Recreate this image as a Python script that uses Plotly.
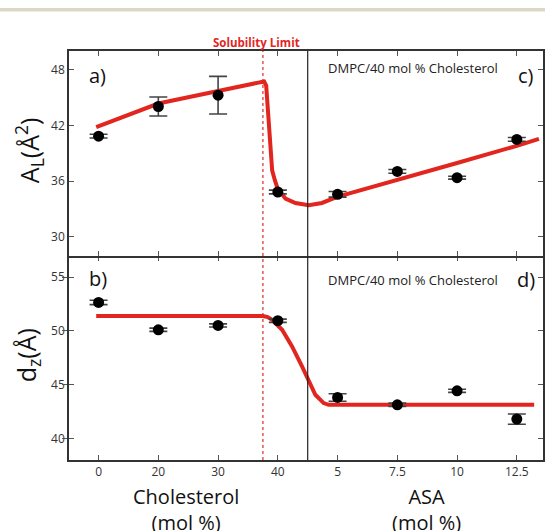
import plotly.graph_objects as go

# Composition axis: cholesterol series, then ASA series at 40 mol % cholesterol
x_pos = [0, 1, 2, 3, 4, 5, 6, 7]
x_labels = ["0", "20", "30", "40", "5", "7.5", "10", "12.5"]

# Area per lipid A_L (Å^2)
area_vals = [40.84, 44.03, 45.25, 34.83, 34.58, 37.05, 36.37, 40.49]
area_err = [0.2, 1.02, 2.02, 0.2, 0.3, 0.2, 0.15, 0.2]

# Lamellar spacing d_z (Å)
dz_vals = [52.64, 50.1, 50.5, 50.94, 43.81, 43.13, 44.43, 41.8]
dz_err = [0.2, 0.15, 0.15, 0.15, 0.35, 0.15, 0.15, 0.48]

# Guide-to-the-eye curves (position on composition axis, value)
fit_area_x = [-0.04, 0.5, 1.0, 1.5, 2.0, 2.5, 2.72, 2.77, 2.805, 2.838, 2.867,
              2.905, 2.95, 2.988, 3.06, 3.128, 3.295, 3.517, 3.738, 3.962,
              4.183, 5.0, 6.0, 7.0, 7.37]
fit_area_y = [41.8, 43.08, 44.35, 45.03, 45.67, 46.36, 46.7, 46.72, 46.28, 43.6,
              40.03, 37.16, 36.1, 35.37, 34.7, 34.12, 33.65, 33.4, 33.65, 34.23,
              34.66, 36.1, 37.95, 39.8, 40.55]

fit_dz_x = [-0.04, 2.75, 2.83, 2.905, 3.072, 3.238, 3.405, 3.517, 3.628, 3.767,
            3.85, 7.29]
fit_dz_y = [51.38, 51.38, 51.28, 51.03, 50.1, 48.55, 46.7, 45.3, 44.06, 43.29,
            43.13, 43.13]

solubility_limit = 2.75   # 37.5 mol % cholesterol
series_break = 3.5        # boundary between cholesterol and ASA series

RED = "#e2261f"
INK = "#333333"
FONT = "Open Sans"

fig = go.Figure()

def add_panel(xa, ya, fx, fy, vals, errs):
    fig.add_trace(go.Scatter(
        x=fx, y=fy, mode="lines", xaxis=xa, yaxis=ya,
        line=dict(color=RED, width=4), hoverinfo="skip", showlegend=False))
    fig.add_trace(go.Scatter(
        x=x_pos, y=vals, mode="markers", xaxis=xa, yaxis=ya,
        marker=dict(color="black", size=11),
        error_y=dict(type="data", array=errs, visible=True,
                     color="#444444", thickness=1.6, width=9),
        showlegend=False))

add_panel("x2", "y2", fit_area_x, fit_area_y, area_vals, area_err)
add_panel("x", "y", fit_dz_x, fit_dz_y, dz_vals, dz_err)

xrange = [-0.495, 7.438]
LW = 1.5
tick_style = dict(ticks="inside", ticklen=5, tickcolor="#555555", tickwidth=1,
                  showgrid=False, zeroline=False,
                  tickfont=dict(family=FONT, size=12, color=INK))
axis_common = dict(showline=True, linecolor=INK, linewidth=LW,
                   mirror="allticks", **tick_style)

fig.update_layout(
    width=545, height=531,
    margin=dict(l=69, r=0, t=51, b=71),
    paper_bgcolor="white", plot_bgcolor="white",
    # lower panel: bottom axis only; its top ticks come from xaxis3
    xaxis=dict(range=xrange, domain=[0, 1], anchor="y", showline=True,
               linecolor=INK, linewidth=LW, mirror=False,
               tickvals=x_pos, ticktext=x_labels, **tick_style),
    xaxis3=dict(range=xrange, overlaying="x", anchor="y", side="top",
                showline=False, tickvals=x_pos, showticklabels=False,
                **tick_style),
    yaxis=dict(range=[38, 57], domain=[0, 0.5], anchor="x",
               tickvals=[40, 45, 50, 55], **axis_common),
    xaxis2=dict(range=xrange, domain=[0, 1], anchor="y2",
                tickvals=x_pos, showticklabels=False, **axis_common),
    yaxis2=dict(range=[28, 50], domain=[0.5, 1], anchor="x2",
                tickvals=[30, 36, 42, 48], **axis_common),
)

# invisible trace so the overlay tick axis is rendered
fig.add_trace(go.Scatter(x=[x_pos[0]], y=[dz_vals[0]], xaxis="x3", yaxis="y",
                         mode="markers", marker=dict(opacity=0),
                         hoverinfo="skip", showlegend=False))

shapes = [
    # thin rule across the top of the page
    dict(type="rect", xref="paper", yref="paper", x0=-0.2, x1=1.1,
         y0=1.0966, y1=1.105, fillcolor="#ddd7c6", line=dict(width=0),
         layer="below"),
    # solubility limit marker
    dict(type="line", xref="x", yref="paper", x0=solubility_limit,
         x1=solubility_limit, y0=0, y1=1,
         line=dict(color="rgba(226,38,31,0.75)", width=1.6, dash="dot")),
    # cholesterol / ASA boundary
    dict(type="line", xref="x", yref="paper", x0=series_break, x1=series_break,
         y0=0, y1=1, line=dict(color="#222222", width=1.2)),
]
fig.update_layout(shapes=shapes)

def pa(px):
    return (px - 69) / 476

def pb(py):
    return (460 - py) / 409

notes = [
    dict(text="<b>Solubility Limit</b>", x=pa(257), y=pb(42.5),
         font=dict(family=FONT, size=11.5, color=RED)),
    dict(text="a)", x=pa(87), y=pb(75), xanchor="left",
         font=dict(family=FONT, size=20, color="#111111")),
    dict(text="b)", x=pa(87), y=pb(278), xanchor="left",
         font=dict(family=FONT, size=20, color="#111111")),
    dict(text="c)", x=pa(538), y=pb(75), xanchor="right",
         font=dict(family=FONT, size=20, color="#111111")),
    dict(text="d)", x=pa(539), y=pb(279), xanchor="right",
         font=dict(family=FONT, size=20, color="#111111")),
    dict(text="DMPC/40 mol % Cholesterol", x=pa(414), y=pb(68.5),
         font=dict(family=FONT, size=13, color="#222222")),
    dict(text="DMPC/40 mol % Cholesterol", x=pa(414), y=pb(279.5),
         font=dict(family=FONT, size=13, color="#222222")),
    dict(text="Cholesterol<br>(mol %)", x=pa(186.5), y=pb(509),
         font=dict(family=FONT, size=20, color="#111111")),
    dict(text="ASA<br>(mol %)", x=pa(428), y=pb(509),
         font=dict(family=FONT, size=20, color="#111111")),
    dict(text="A<sub>L</sub>(Å<sup>2</sup>)", x=pa(29), y=pb(150), textangle=-90,
         font=dict(family=FONT, size=25, color="#111111")),
    dict(text="d<sub>z</sub>(Å)", x=pa(27), y=pb(355), textangle=-90,
         font=dict(family=FONT, size=25, color="#111111")),
]
for n in notes:
    n.setdefault("xanchor", "center")
    fig.add_annotation(xref="paper", yref="paper", showarrow=False,
                       yanchor="middle", **n)

fig.write_html("out.html")
